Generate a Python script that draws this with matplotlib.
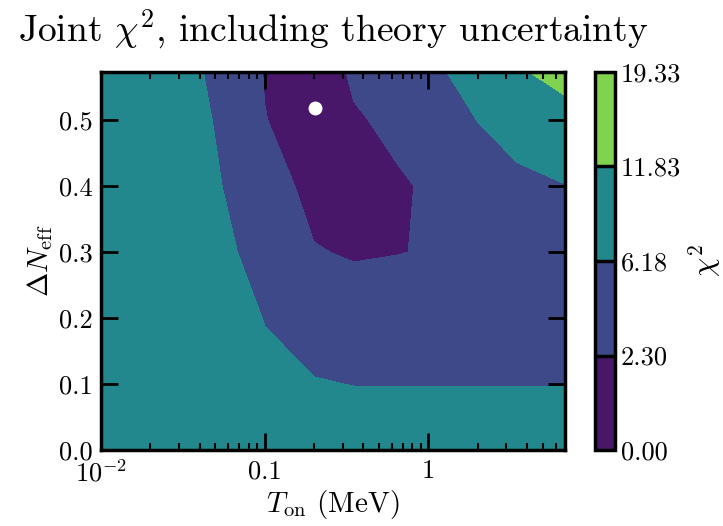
import numpy as np
import matplotlib
matplotlib.use("Agg")
import matplotlib.pyplot as plt
from matplotlib.ticker import FixedLocator, FixedFormatter, LogLocator, NullFormatter

plt.rcParams['font.family'] = 'serif'
plt.rcParams['font.serif'] = ['cmr10', 'DejaVu Serif']
plt.rcParams['mathtext.fontset'] = 'cm'
plt.rcParams['axes.formatter.use_mathtext'] = True

# ---- data ----
T_on = [0.01, 0.04, 0.1, 0.2, 0.35, 0.63, 1.0, 2.0, 3.5, 7.0]          # MeV
dNeff = [0.0, 0.1, 0.2, 0.3, 0.4, 0.5, 0.6]
chi2 = [
    [10.0, 10.0, 9.5, 9.2, 9.0, 9.0, 9.0, 9.0, 9.0, 9.0],
    [9.8, 9.8, 7.5, 6.4, 6.09, 6.05, 6.05, 6.05, 6.05, 6.09],
    [9.6, 9.3, 6.0, 4.4, 4.0, 4.2, 4.2, 4.3, 4.6, 4.8],
    [9.4, 7.67, 4.5, 2.45, 2.0, 2.2, 2.5, 3.6, 4.4, 4.9],
    [9.2, 7.17, 3.2, 1.5, 1.0, 1.7, 2.9, 4.0, 5.4, 6.1],
    [9.0, 6.75, 2.4, 0.2, 1.9, 3.3, 3.8, 6.25, 7.6, 9.5],
    [8.8, 6.2, 2.0, 0.6, 3.3, 4.8, 5.9, 8.5, 12.6, 16.0],
]
levels = [0.00, 2.30, 6.18, 11.83, 19.33]
level_labels = ['0.00', '2.30', '6.18', '11.83', '19.33']
best_T = 0.204
best_dN = 0.519
xtick_vals = [0.01, 0.1, 1.0]
xtick_labels = [r'$10^{-2}$', '0.1', '1']
ytick_vals = [0.0, 0.1, 0.2, 0.3, 0.4, 0.5]

fig = plt.figure(figsize=(7.23, 5.26), dpi=100)
ax = fig.add_axes([101/723, 1-450/526, 464/723, 378/526])
cax = fig.add_axes([595/723, 1-450/526, 20/723, 378/526])

X, Y = np.meshgrid(np.array(T_on), np.array(dNeff))
cs = ax.contourf(X, Y, np.array(chi2), levels=levels, cmap='viridis')
ax.plot([best_T], [best_dN], 'o', color='white', ms=9, mec='white')

ax.set_xscale('log')
ax.set_xlim(0.01, 10**0.835)
ax.set_ylim(0.0, 0.573)
ax.xaxis.set_major_locator(FixedLocator(xtick_vals))
ax.xaxis.set_major_formatter(FixedFormatter(xtick_labels))
ax.xaxis.set_minor_locator(LogLocator(base=10, subs=np.arange(2, 10)))
ax.xaxis.set_minor_formatter(NullFormatter())
ax.yaxis.set_major_locator(FixedLocator(ytick_vals))
ax.yaxis.set_major_formatter(FixedFormatter([f'{v:.1f}' for v in ytick_vals]))

ax.tick_params(which='both', direction='in', top=True, right=True, labelsize=19)
ax.tick_params(which='major', length=12, width=2)
ax.tick_params(which='minor', length=5, width=1.5)
ax.tick_params(axis='x', which='major', pad=7)
ax.tick_params(axis='y', which='major', pad=6)
for s in ax.spines.values():
    s.set_linewidth(2.5)

ax.set_xlabel(r'$T_{\rm on}$ (MeV)', fontsize=21, labelpad=1)
ax.set_ylabel(r'$\Delta N_{\rm eff}$', fontsize=21, labelpad=3)
ax.set_title(r'Joint $\chi^2$, including theory uncertainty', fontsize=27, pad=22)

cbar = fig.colorbar(cs, cax=cax, drawedges=True)
cbar.set_ticks(levels)
cbar.ax.set_yticklabels(level_labels)
cbar.ax.tick_params(length=0, labelsize=19, pad=4)
cbar.outline.set_linewidth(2.5)
cbar.dividers.set_color('black')
cbar.dividers.set_linewidth(2.5)
cbar.set_label(r'$\chi^2$', fontsize=22, labelpad=4)

fig.savefig('out.png', dpi=100)
